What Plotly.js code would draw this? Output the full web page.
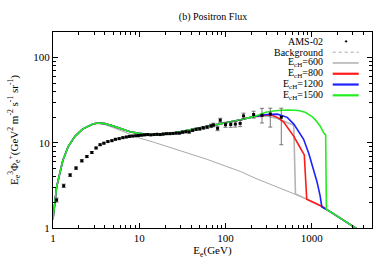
<!DOCTYPE html>
<html>
<head>
<meta charset="utf-8">
<script src="https://cdn.plot.ly/plotly-3.0.1.min.js"></script>
<style>html,body{margin:0;padding:0;background:#fff}#chart{width:392px;height:274px}</style>
</head>
<body>
<div id="chart"></div>
<script>
// Common (low-energy) total flux, shared by all E_cH models
const E_tot = [1,1.05,1.1,1.2,1.3,1.5,1.8,2.2,2.9,3.3,4,5,6,7,8,10,13,17,25,39,60,95,123,150,212];
const F_tot = [1.27,1.96,3.0,4.4,6.2,9.05,11.9,14.5,16.6,17.1,16.8,15.7,14.7,13.9,13.4,12.9,12.5,12.4,13.0,14.2,15.5,16.7,17.7,18.7,20.3];

// Background
const E_bg = [1,1.05,1.1,1.2,1.3,1.5,1.8,2.2,2.9,3.3,4,5,6,7,8,10,15,20,30,45,60,100,150,220,350,500,650,880,1100,1320,1600,2000,2500,3200,4000];
const F_bg = [1.27,1.96,3.0,4.4,6.2,9.0,11.8,14.4,16.4,16.8,16.4,15.1,14.0,13.0,12.4,11.4,10.1,9.2,8.1,7.1,6.44,5.33,4.6,3.85,3.21,2.79,2.52,2.19,1.96,1.79,1.58,1.37,1.18,1.0,0.87];

// High-energy tails of each model
const E_600 = [300,400,453,540,619,648,880,1100,1320,1600,2000,2500,3200,4000];
const F_600 = [20.6,19.3,18.3,17.0,16.1,2.5,2.19,1.96,1.79,1.58,1.37,1.18,1.0,0.87];
const E_800 = [300,350,413,473,540,620,710,820,875,1100,1320,1600,2000,2500,3200,4000];
const F_800 = [21.3,21.0,19.5,17.5,14.5,11.9,9.3,7.2,2.18,1.96,1.79,1.58,1.37,1.18,1.0,0.87];
const E_1200 = [300,400,520,620,710,805,925,1050,1150,1250,1310,1600,2000,2500,3200,4000];
const F_1200 = [21.5,21.7,19.9,16.6,13.6,11.0,7.5,5.0,3.5,2.4,1.77,1.58,1.37,1.18,1.0,0.87];
const E_1500 = [300,400,540,700,840,1000,1100,1250,1380,1450,1480,1600,2000,2500,3200,4000];
const F_1500 = [23.0,24.0,24.3,24.0,22.8,20.5,18.6,15.8,13.0,12.4,1.66,1.58,1.37,1.18,1.0,0.87];

// AMS-02 data
const E_ams = [1.10,1.33,1.58,1.85,2.16,2.47,2.82,3.16,3.52,3.89,4.33,4.82,5.3,5.86,6.46,7.08,7.7,8.4,9.1,9.8,10.6,11.5,12.5,13.6,14.8,16.1,17.5,19.0,20.7,22.6,24.6,26.8,29.2,31.8,34.7,37.9,41.5,45.6,50.2,55.4,61.3,68,72.5,81,87,100,115,130,148,162,212,265,331,444];
const F_ams = [2.13,3.13,4.18,5.05,6.15,6.9,7.7,8.7,9.5,9.9,10.35,10.6,11.0,11.2,11.5,11.7,11.9,12.0,12.1,12.2,12.3,12.4,12.5,12.4,12.5,12.6,12.5,12.7,12.8,12.8,12.9,13.0,13.0,13.3,13.5,13.4,14.0,14.4,14.6,15.0,15.3,15.8,16.2,14.8,18.4,16.3,16.4,16.6,16.9,20.7,21.5,21.0,21.8,20.0];
const errUp_ams = [0.12,0.14,0.16,0.17,0.18,0.18,0.2,0.2,0.2,0.2,0.2,0.2,0.2,0.2,0.2,0.2,0.2,0.2,0.2,0.2,0.25,0.25,0.25,0.25,0.25,0.25,0.25,0.25,0.25,0.25,0.3,0.3,0.3,0.35,0.35,0.35,0.4,0.45,0.5,0.55,0.6,0.7,0.8,0.9,1.0,1.1,1.2,1.3,1.4,1.6,2.0,4.4,3.7,5.5];
const errDn_ams = [0.12,0.14,0.16,0.17,0.18,0.18,0.2,0.2,0.2,0.2,0.2,0.2,0.2,0.2,0.2,0.2,0.2,0.2,0.2,0.2,0.25,0.25,0.25,0.25,0.25,0.25,0.25,0.25,0.25,0.25,0.3,0.3,0.3,0.35,0.35,0.35,0.4,0.45,0.5,0.55,0.6,0.7,0.8,0.9,1.0,1.1,1.2,1.3,1.4,1.6,2.0,3.9,6.5,10.5];

const legendLabels = ['AMS-02','Background','E<sub>cH</sub>=600','E<sub>cH</sub>=800','E<sub>cH</sub>=1200','E<sub>cH</sub>=1500'];

const C_600 = '#b4b4b4', C_800 = '#ff1a1a', C_1200 = '#2020ff', C_1500 = '#22ee22', C_bg = '#a8a8a8';

function model(E, F, color, width) {
  return {x: E_tot.concat(E), y: F_tot.concat(F), mode: 'lines', type: 'scatter',
    line: {color: color, width: width}, hoverinfo: 'skip', showlegend: false};
}

const traces = [
  {x: E_bg, y: F_bg, mode: 'lines', line: {color: C_bg, width: 1}, showlegend: false},
  model(E_600, F_600, C_600, 1.6),
  model(E_800, F_800, C_800, 1.6),
  model(E_1200, F_1200, C_1200, 1.6),
  model(E_1500, F_1500, C_1500, 1.6),
  {x: E_ams, y: F_ams, mode: 'markers', type: 'scatter', showlegend: false,
   marker: {color: '#000', size: 3, symbol: 'square'},
   error_y: {type: 'data', symmetric: false, array: errUp_ams, arrayminus: errDn_ams, color: '#555', thickness: 0.8, width: 2}}
];

const serif = 'Liberation Serif, Times New Roman, serif';
const rowsY = [0.952, 0.897, 0.842, 0.787, 0.732, 0.677];
const textX = 0.8486, lineX0 = 0.8768, lineX1 = 0.9583;
const annotations = legendLabels.map((t, i) => ({
  text: t, xref: 'paper', yref: 'paper', x: textX, y: rowsY[i], xanchor: 'right', yanchor: 'middle',
  showarrow: false, borderpad: 0, font: {family: serif, size: 10, color: '#000'}
}));
const sampleColors = [null, C_bg, C_600, C_800, C_1200, C_1500];
const sampleWidths = [0, 1, 1.6, 2.2, 2.2, 2.2];
const shapes = [];
for (let i = 1; i < 6; i++) {
  shapes.push({type: 'line', xref: 'paper', yref: 'paper', x0: lineX0, x1: lineX1, y0: rowsY[i], y1: rowsY[i],
    line: {color: sampleColors[i], width: sampleWidths[i], dash: i === 1 ? 'dot' : 'solid'}});
}
shapes.push({type: 'circle', xref: 'paper', yref: 'paper', x0: 0.9157, x1: 0.9220, y0: rowsY[0] - 0.004, y1: rowsY[0] + 0.004,
  fillcolor: '#000', line: {color: '#000', width: 0.5}});

const axisCommon = {
  type: 'log', showgrid: false, zeroline: false, showline: true, linecolor: '#000', linewidth: 1,
  mirror: 'allticks', ticks: 'inside', ticklen: 5, tickwidth: 1, tickcolor: '#000', dtick: 1,
  tickfont: {family: serif, size: 11, color: '#000'},
  minor: {ticks: 'inside', ticklen: 3, tickcolor: '#000', dtick: 'D1', showgrid: false}
};

const layout = {
  width: 392, height: 274,
  margin: {l: 53, r: 20, t: 32, b: 46},
  paper_bgcolor: '#fff', plot_bgcolor: '#fff',
  showlegend: false,
  title: {text: '(b) Positron Flux', font: {family: serif, size: 10, color: '#000'},
    x: 213/392, xanchor: 'center', y: 1 - 16/274, yanchor: 'middle'},
  xaxis: Object.assign({}, axisCommon, {range: [0, Math.log10(5000)],
    tickvals: [1, 10, 100, 1000], ticktext: ['1', '10', '100', '1000'],
    title: {text: 'E<sub>e</sub>(GeV)', font: {family: serif, size: 11, color: '#000'}, standoff: 2}}),
  yaxis: Object.assign({}, axisCommon, {range: [0, Math.log10(200)],
    tickvals: [1, 10, 100], ticktext: ['1', '10', '100'],
    title: {text: 'E<sub>e</sub><sup>3</sup>Φ<sub>e</sub><sup>+</sup>(GeV<sup>2</sup> m<sup>-2</sup> s<sup>-1</sup> sr<sup>-1</sup>)',
      font: {family: serif, size: 11, color: '#000'}, standoff: 12}}),
  annotations: annotations,
  shapes: shapes
};

Plotly.newPlot('chart', traces, layout, {staticPlot: true, displayModeBar: false});
</script>
</body>
</html>
